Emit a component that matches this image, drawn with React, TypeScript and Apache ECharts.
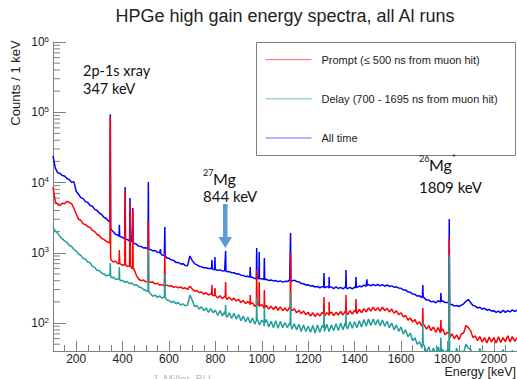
import React, { useEffect, useRef } from 'react';
import * as echarts from 'echarts';

const TITLE = 'HPGe high gain energy spectra, all Al runs';
const NAME_PROMPT = 'Prompt (\u2264 500 ns from muon hit)';
const NAME_DELAY = 'Delay (700 - 1695 ns from muon hit)';
const NAME_ALL = 'All time';

// counts per 1 keV, sampled every 10 keV from 100 keV to 2100 keV
const ALL_BASE = [
  24000, 16000, 13800, 13500, 12600, 12400, 11400, 11000, 10100, 10300,
  7500, 6800, 6100, 5900, 5350, 5200, 4700, 4600, 4150, 4000,
  3650, 3500, 3180, 3080, 2820, 2150, 1990, 1820, 1790, 1680,
  1660, 1560, 1550, 1460, 1450, 1360, 1320, 1240, 1230, 1170,
  1180, 1120, 1110, 1070, 1075, 1020, 1000, 930, 920, 850,
  830, 790, 780, 730, 730, 695, 700, 660, 655, 900,
  780, 700, 672, 645, 630, 612, 612, 598, 596, 578,
  582, 562, 570, 552, 556, 538, 540, 520, 520, 500,
  502, 480, 476, 458, 462, 444, 448, 428, 436, 418,
  428, 412, 420, 402, 410, 398, 402, 388, 398, 382,
  392, 390, 406, 396, 408, 390, 386, 366, 362, 348,
  352, 336, 340, 326, 332, 318, 330, 316, 330, 314,
  326, 308, 328, 310, 322, 306, 326, 308, 322, 306,
  324, 316, 336, 328, 346, 334, 354, 338, 354, 340,
  354, 338, 352, 334, 350, 332, 338, 324, 328, 314,
  312, 296, 296, 278, 274, 258, 256, 242, 244, 230,
  228, 212, 212, 200, 204, 194, 208, 198, 206, 196,
  196, 184, 184, 174, 178, 172, 180, 188, 204, 216,
  196, 178, 174, 164, 168, 158, 162, 152, 156, 148,
  150, 142, 148, 140, 152, 142, 150, 144, 154, 146,
  152,
];

const PROMPT_BASE = [
  8500, 5300, 4900, 4700, 5050, 5000, 5400, 5200, 5000, 4300,
  3600, 3000, 2900, 2580, 2520, 2350, 2300, 2080, 2000, 1820,
  1760, 1600, 1540, 1450, 1400, 790, 740, 760, 700, 710,
  660, 680, 640, 650, 600, 580, 470, 420, 400, 410,
  385, 395, 380, 385, 360, 368, 345, 352, 338, 346,
  335, 340, 322, 330, 318, 326, 310, 318, 300, 335,
  305, 285, 290, 272, 276, 258, 270, 250, 262, 244,
  252, 228, 244, 222, 240, 216, 234, 212, 226, 206,
  218, 196, 210, 190, 202, 182, 194, 172, 188, 170,
  182, 160, 178, 158, 174, 156, 172, 152, 170, 150,
  164, 148, 168, 150, 160, 140, 152, 136, 148, 132,
  142, 126, 140, 124, 138, 126, 142, 126, 140, 128,
  144, 128, 142, 130, 146, 130, 148, 132, 150, 134,
  152, 136, 156, 140, 160, 144, 164, 148, 168, 150,
  166, 148, 168, 150, 162, 144, 158, 138, 150, 132,
  140, 122, 128, 110, 118, 104, 112, 96, 104, 90,
  94, 82, 92, 78, 88, 74, 86, 72, 82, 68,
  74, 62, 70, 60, 68, 58, 70, 72, 92, 86,
  78, 62, 66, 56, 64, 54, 62, 52, 63, 54,
  62, 52, 64, 53, 62, 54, 66, 54, 64, 55,
  62,
];

const DELAY_BASE = [
  2300, 2050, 1900, 1700, 1580, 1480, 1400, 1280, 1230, 1120,
  1060, 960, 920, 830, 810, 740, 720, 640, 620, 560,
  560, 510, 500, 470, 480, 445, 450, 420, 425, 400,
  405, 380, 390, 362, 372, 345, 350, 325, 320, 300,
  290, 280, 262, 240, 250, 232, 244, 226, 236, 214,
  210, 196, 205, 188, 196, 180, 188, 176, 180, 250,
  212, 172, 178, 158, 170, 150, 164, 142, 160, 140,
  152, 128, 150, 126, 144, 120, 140, 116, 138, 114,
  132, 108, 126, 104, 122, 100, 118, 96, 116, 94,
  110, 90, 112, 88, 106, 86, 108, 84, 106, 86,
  102, 86, 100, 82, 98, 80, 96, 76, 94, 76,
  90, 74, 92, 72, 94, 74, 92, 76, 96, 76,
  94, 78, 98, 78, 100, 80, 102, 82, 104, 84,
  104, 86, 108, 88, 112, 90, 114, 92, 114, 94,
  112, 92, 110, 90, 106, 86, 100, 80, 94, 76,
  88, 70, 80, 64, 72, 56, 62, 50, 54, 44,
  48, 38, 46, 36, 44, 35, 46, 34, 42, 36,
  42, 34, 40, 33, 44, 34, 40, 38, 50, 44,
  42, 33, 38, 32, 44, 31, 40, 32, 38, 31,
  40, 31, 38, 33, 42, 31, 39, 32, 41, 33,
  38,
];

// peak points [energy keV, counts]
const ALL_PEAKS = [
  [345.5, 2800], [346, 21000], [347, 94000], [348.5, 2300],
  [384.5, 1720], [386, 2500], [387.5, 1700],
  [409.5, 1570], [411, 8600], [412.5, 1560],
  [430.5, 1470], [432, 6000], [433.5, 1460],
  [442.5, 1440], [444, 4350], [445.5, 1420],
  [509.5, 1130], [511, 10200], [512.5, 1120],
  [561.5, 990], [563, 1130], [564.5, 980],
  [580.5, 915], [582, 2330], [583.5, 900],
  [783.5, 596], [785, 790], [786.5, 590],
  [796.5, 580], [798, 870], [799.5, 578],
  [842.5, 552], [844, 1060], [845.5, 550],
  [948.5, 452], [950, 627], [951.5, 450],
  [976.5, 434], [978, 1170], [979.5, 432],
  [987.5, 430], [989, 1025], [990.5, 428],
  [1009.5, 416], [1011, 842], [1012.5, 416],
  [1122.5, 404], [1124, 1910], [1125.5, 402],
  [1266.5, 324], [1268, 515], [1269.5, 326],
  [1288.5, 324], [1290, 452], [1291.5, 325],
  [1361.5, 316], [1363, 568], [1364.5, 316],
  [1404.5, 318], [1406, 452], [1407.5, 320],
  [1451.5, 340], [1453, 420], [1454.5, 342],
  [1692.5, 238], [1694, 348], [1695.5, 236],
  [1770.5, 205], [1772, 267], [1773.5, 204],
  [1806.5, 194], [1808, 3020], [1809.5, 190],
];

const PROMPT_PEAKS = [
  [345.5, 1380], [347, 85500], [348.5, 900],
  [384.5, 705], [386, 1094], [387.5, 705],
  [409.5, 680], [411, 7600], [412.5, 680],
  [430.5, 650], [432, 5000], [433.5, 645],
  [442.5, 610], [444, 4000], [445.5, 600],
  [509.5, 395], [511, 2800], [512.5, 392],
  [580.5, 340], [582, 1000], [583.5, 338],
  [783.5, 256], [785, 348], [786.5, 254],
  [796.5, 250], [798, 315], [799.5, 248],
  [842.5, 236], [844, 383], [845.5, 232],
  [948.5, 190], [950, 250], [951.5, 188],
  [976.5, 182], [978, 568], [979.5, 180],
  [987.5, 180], [989, 383], [990.5, 178],
  [1009.5, 165], [1011, 295], [1012.5, 165],
  [1122.5, 160], [1124, 1000], [1125.5, 158],
  [1266.5, 136], [1268, 235], [1269.5, 136],
  [1288.5, 134], [1290, 199], [1291.5, 134],
  [1361.5, 140], [1363, 250], [1364.5, 140],
  [1404.5, 144], [1406, 220], [1407.5, 145],
  [1692.5, 97], [1694, 164], [1695.5, 96],
  [1770.5, 80], [1772, 110], [1773.5, 78],
  [1806.5, 70], [1808, 1620], [1809.5, 68],
];

const DELAY_PEAKS = [
  [345.5, 480], [347, 715], [348.5, 455],
  [384.5, 424], [386, 627], [387.5, 420],
  [509.5, 282], [511, 1100], [512.5, 280],
  [580.5, 236], [582, 500], [583.5, 230],
  [842.5, 132], [844, 180], [845.5, 130],
  [976.5, 110], [978, 230], [979.5, 106],
  [1009.5, 100], [1011, 170], [1012.5, 100],
  [1122.5, 94], [1124, 267], [1125.5, 92],
  [1266.5, 86], [1268, 140], [1269.5, 86],
  [1361.5, 90], [1363, 135], [1364.5, 90],
  [1692.5, 52], [1694, 103], [1695.5, 50],
  [1770.5, 44], [1772, 62], [1773.5, 40],
  [1806.5, 40], [1808, 929], [1809.5, 38],
];

const X_MIN = 100;
const X_MAX = 2100;
const Y_MIN = 40;
const Y_MAX = 1e6;

const SANS = 'Liberation Sans, Arial, sans-serif';
const CAL = 'Lato, Open Sans, sans-serif';

function build(base: number[], peaks: number[][]) {
  const pts = base.map((v, i) => [X_MIN + 10 * i, v]);
  return pts.concat(peaks).sort((a, b) => a[0] - b[0]);
}

function minorTicks() {
  const out: number[][] = [];
  for (let n = 1; n <= 5; n++) {
    for (let k = 2; k <= 9; k++) {
      const v = k * Math.pow(10, n);
      if (v > Y_MIN && v < Y_MAX) out.push([X_MIN, v]);
    }
  }
  return out;
}

export default function App() {
  const ref = useRef<HTMLDivElement>(null);
  useEffect(() => {
    document.body.style.margin = '0';
    const chart = echarts.init(ref.current!, null, { renderer: 'svg' });
    const axisColor = '#808080';
    const option: any = {
      animation: false,
      backgroundColor: '#fff',
      grid: { left: 53, right: 0, top: 42, bottom: 28, containLabel: false, outerBoundsMode: 'none' },
      xAxis: {
        type: 'value',
        min: X_MIN,
        max: X_MAX,
        splitNumber: 10,
        axisLine: { lineStyle: { color: axisColor, width: 1 } },
        axisTick: { inside: true, length: 10, lineStyle: { color: axisColor } },
        minorTick: { show: true, splitNumber: 4, length: 6, lineStyle: { color: axisColor } },
        splitLine: { show: false },
        axisLabel: {
          showMinLabel: false, showMaxLabel: false, margin: 2, fontSize: 12, lineHeight: 12, fontFamily: SANS, color: '#222',
          formatter: (v: number) => String(v),
        },
      },
      yAxis: {
        type: 'log',
        logBase: 10,
        min: Y_MIN,
        max: Y_MAX,
        axisLine: { show: true, lineStyle: { color: axisColor, width: 1 } },
        axisTick: { show: true, inside: true, length: 13, lineStyle: { color: axisColor } },
        minorTick: { show: false },
        splitLine: { show: false },
        axisLabel: {
          showMinLabel: false,
          margin: 4,
          formatter: (v: number) => {
            const n = Math.round(Math.log10(v));
            if (Math.abs(v - Math.pow(10, n)) > 1e-6 * v) return '';
            return '{b|10}{s|' + n + '}';
          },
          rich: {
            b: { fontSize: 12, fontFamily: SANS, color: '#222', lineHeight: 14 },
            s: { fontSize: 8, fontFamily: SANS, color: '#222', verticalAlign: 'top', lineHeight: 14, padding: [0, 0, 8, 0] },
          },
        },
      },
      legend: {
        orient: 'vertical',
        left: 265,
        top: 54,
        padding: 0,
        itemWidth: 46,
        itemHeight: 14,
        itemGap: 28,
        itemStyle: { opacity: 0 },
        textStyle: { fontSize: 11, fontFamily: SANS, color: '#222', padding: [0, 0, 0, 5] },
        data: [
          { name: NAME_PROMPT, lineStyle: { color: '#ff6a6a', width: 1 } },
          { name: NAME_DELAY, lineStyle: { color: '#62c0c0', width: 1 } },
          { name: NAME_ALL, lineStyle: { color: '#6a6aff', width: 1 } },
        ],
      },
      series: [
        {
          name: NAME_ALL, type: 'line', symbol: 'none', data: build(ALL_BASE, ALL_PEAKS),
          lineStyle: { color: '#0000ff', width: 1.5 }, itemStyle: { color: '#0000ff' },
        },
        {
          name: NAME_PROMPT, type: 'line', symbol: 'none', data: build(PROMPT_BASE, PROMPT_PEAKS),
          lineStyle: { color: '#ff0000', width: 1.5 }, itemStyle: { color: '#ff0000' },
        },
        {
          name: NAME_DELAY, type: 'line', symbol: 'none', data: build(DELAY_BASE, DELAY_PEAKS),
          lineStyle: { color: '#1f9f99', width: 1.5 }, itemStyle: { color: '#1f9f99' },
        },
        {
          name: 'minor', type: 'custom', silent: true, data: minorTicks(),
          renderItem: (params: any, api: any) => {
            const p = api.coord([api.value(0), api.value(1)]);
            return { type: 'line', shape: { x1: p[0], y1: p[1], x2: p[0] + 7, y2: p[1] }, style: { stroke: axisColor, lineWidth: 1 } };
          },
        },
      ],
      graphic: [
        { type: 'text', x: 285, y: 16, style: { text: TITLE, font: '18px ' + SANS, fill: '#222', align: 'center', verticalAlign: 'middle' } },
        { type: 'text', x: 15, y: 83, rotation: Math.PI / 2, style: { text: 'Counts / 1 keV', font: '13px ' + SANS, fill: '#222', align: 'center', verticalAlign: 'middle' } },
        { type: 'text', x: 516, y: 378, style: { text: 'Energy [keV]', font: '12.5px ' + SANS, fill: '#222', align: 'right', verticalAlign: 'bottom' } },
        { type: 'rect', shape: { x: 256.5, y: 42.5, width: 259, height: 113 }, style: { fill: 'none', stroke: axisColor, lineWidth: 1 } },
        { type: 'text', x: 83, y: 70, style: { text: '2p-1s xray', font: '14.5px ' + CAL, fill: '#111', align: 'left', verticalAlign: 'middle' } },
        { type: 'text', x: 83, y: 88, style: { text: '347 keV', font: '14.5px ' + CAL, fill: '#111', align: 'left', verticalAlign: 'middle' } },
        { type: 'text', x: 203, y: 172, style: { text: '27', font: '9px ' + CAL, fill: '#111', align: 'left', verticalAlign: 'middle' } },
        { type: 'text', x: 213, y: 178, style: { text: 'Mg', font: '16px ' + CAL, fill: '#111', align: 'left', verticalAlign: 'middle' } },
        { type: 'text', x: 203, y: 196, style: { text: '844 keV', font: '15px ' + CAL, fill: '#111', align: 'left', verticalAlign: 'middle' } },
        { type: 'text', x: 419, y: 158, style: { text: '26', font: '9px ' + CAL, fill: '#111', align: 'left', verticalAlign: 'middle' } },
        { type: 'text', x: 429, y: 164, style: { text: 'Mg', font: '16px ' + CAL, fill: '#111', align: 'left', verticalAlign: 'middle' } },
        { type: 'text', x: 452, y: 157, style: { text: '*', font: '9px ' + CAL, fill: '#111', align: 'left', verticalAlign: 'middle' } },
        { type: 'text', x: 419, y: 187, style: { text: '1809 keV', font: '15px ' + CAL, fill: '#111', align: 'left', verticalAlign: 'middle' } },
        {
          type: 'polygon',
          shape: { points: [[223, 204], [227.5, 204], [227.5, 237], [232, 237], [225.3, 248], [218.5, 237], [223, 237]] },
          style: { fill: '#5b9bd5' },
        },
        { type: 'text', x: 152, y: 373, style: { text: 'J. Miller, BU', font: '11px ' + SANS, fill: '#bbbbbb', align: 'left', verticalAlign: 'top' } },
      ],
    };
    chart.setOption(option);
    return () => chart.dispose();
  }, []);
  return <div ref={ref} style={{ width: 517, height: 379 }} />;
}
